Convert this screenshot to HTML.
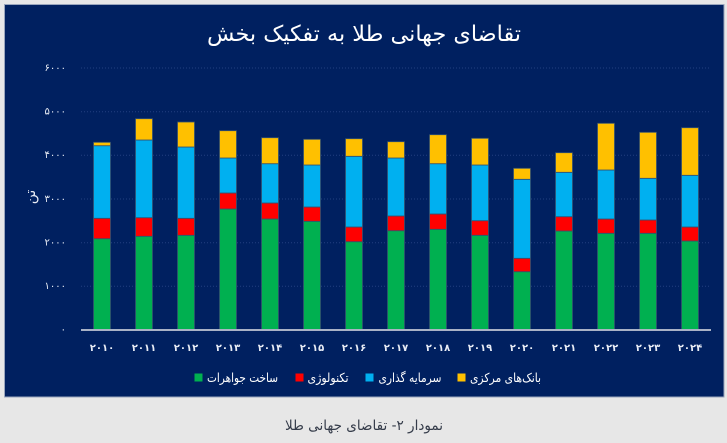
<!DOCTYPE html>
<html>
<head>
<meta charset="utf-8">
<style>
html,body{margin:0;padding:0;background:#e7e7e7;}
body{width:727px;height:443px;overflow:hidden;}
svg{display:block;}
text{font-family:"DejaVu Sans","Liberation Sans",sans-serif;}
</style>
</head>
<body>
<svg width="727" height="443" viewBox="0 0 727 443" xmlns="http://www.w3.org/2000/svg">
<rect x="0" y="0" width="727" height="443" fill="#e7e7e7"/>
<rect x="4.5" y="4.5" width="719.5" height="392.5" fill="#002060" stroke="#9aa6bd" stroke-width="1"/>

<text x="364" y="41" fill="#ffffff" font-size="22" text-anchor="middle" direction="rtl" textLength="314" lengthAdjust="spacingAndGlyphs">تقاضای جهانی طلا به تفکیک بخش</text>

<g stroke="#223f80" stroke-width="1" stroke-dasharray="1,2">
<line x1="81" y1="68" x2="711" y2="68"/>
<line x1="81" y1="111.7" x2="711" y2="111.7"/>
<line x1="81" y1="155.3" x2="711" y2="155.3"/>
<line x1="81" y1="199" x2="711" y2="199"/>
<line x1="81" y1="242.7" x2="711" y2="242.7"/>
<line x1="81" y1="286.3" x2="711" y2="286.3"/>
</g>

<g fill="#e8ecf5" font-size="10" text-anchor="end">
<text x="66" y="71">۶۰۰۰</text>
<text x="66" y="114.5">۵۰۰۰</text>
<text x="66" y="158">۴۰۰۰</text>
<text x="66" y="202">۳۰۰۰</text>
<text x="66" y="245.5">۲۰۰۰</text>
<text x="66" y="289">۱۰۰۰</text>
<text x="66" y="332.5">۰</text>
</g>
<text transform="translate(35,197) rotate(-90)" fill="#e8ecf5" font-size="14" text-anchor="middle">تن</text>

<!-- bars -->
<g stroke="#34506e" stroke-width="0.8">
<rect x="93.5" y="238.7" width="17" height="90.8" fill="#00b050"/><rect x="93.5" y="218.3" width="17" height="20.4" fill="#ff0000"/><rect x="93.5" y="145.7" width="17" height="72.6" fill="#00b0f0"/><rect x="93.5" y="142.3" width="17" height="3.4" fill="#ffc000"/>
<rect x="135.5" y="236.3" width="17" height="93.2" fill="#00b050"/><rect x="135.5" y="217.7" width="17" height="18.6" fill="#ff0000"/><rect x="135.5" y="140" width="17" height="77.7" fill="#00b0f0"/><rect x="135.5" y="118.7" width="17" height="21.3" fill="#ffc000"/>
<rect x="177.5" y="235.3" width="17" height="94.2" fill="#00b050"/><rect x="177.5" y="218.3" width="17" height="17" fill="#ff0000"/><rect x="177.5" y="147" width="17" height="71.3" fill="#00b0f0"/><rect x="177.5" y="122" width="17" height="25" fill="#ffc000"/>
<rect x="219.5" y="209" width="17" height="120.5" fill="#00b050"/><rect x="219.5" y="193" width="17" height="16" fill="#ff0000"/><rect x="219.5" y="158" width="17" height="35" fill="#00b0f0"/><rect x="219.5" y="130.7" width="17" height="27.3" fill="#ffc000"/>
<rect x="261.5" y="219" width="17" height="110.5" fill="#00b050"/><rect x="261.5" y="203" width="17" height="16" fill="#ff0000"/><rect x="261.5" y="163.7" width="17" height="39.3" fill="#00b0f0"/><rect x="261.5" y="137.7" width="17" height="26" fill="#ffc000"/>
<rect x="303.5" y="221.3" width="17" height="108.2" fill="#00b050"/><rect x="303.5" y="207" width="17" height="14.3" fill="#ff0000"/><rect x="303.5" y="165" width="17" height="42" fill="#00b0f0"/><rect x="303.5" y="139.3" width="17" height="25.7" fill="#ffc000"/>
<rect x="345.5" y="241.7" width="17" height="87.8" fill="#00b050"/><rect x="345.5" y="227" width="17" height="14.7" fill="#ff0000"/><rect x="345.5" y="156.3" width="17" height="70.7" fill="#00b0f0"/><rect x="345.5" y="138.7" width="17" height="17.6" fill="#ffc000"/>
<rect x="387.5" y="230.7" width="17" height="98.8" fill="#00b050"/><rect x="387.5" y="216" width="17" height="14.7" fill="#ff0000"/><rect x="387.5" y="158" width="17" height="58" fill="#00b0f0"/><rect x="387.5" y="141.7" width="17" height="16.3" fill="#ffc000"/>
<rect x="429.5" y="229.3" width="17" height="100.2" fill="#00b050"/><rect x="429.5" y="214" width="17" height="15.3" fill="#ff0000"/><rect x="429.5" y="163.7" width="17" height="50.3" fill="#00b0f0"/><rect x="429.5" y="134.7" width="17" height="29" fill="#ffc000"/>
<rect x="471.5" y="235.3" width="17" height="94.2" fill="#00b050"/><rect x="471.5" y="220.7" width="17" height="14.6" fill="#ff0000"/><rect x="471.5" y="165" width="17" height="55.7" fill="#00b0f0"/><rect x="471.5" y="138.3" width="17" height="26.7" fill="#ffc000"/>
<rect x="513.5" y="271.7" width="17" height="57.8" fill="#00b050"/><rect x="513.5" y="258.3" width="17" height="13.4" fill="#ff0000"/><rect x="513.5" y="179.3" width="17" height="79" fill="#00b0f0"/><rect x="513.5" y="168.3" width="17" height="11" fill="#ffc000"/>
<rect x="555.5" y="231" width="17" height="98.5" fill="#00b050"/><rect x="555.5" y="216.7" width="17" height="14.3" fill="#ff0000"/><rect x="555.5" y="172.3" width="17" height="44.4" fill="#00b0f0"/><rect x="555.5" y="152.7" width="17" height="19.6" fill="#ffc000"/>
<rect x="597.5" y="233.3" width="17" height="96.2" fill="#00b050"/><rect x="597.5" y="219" width="17" height="14.3" fill="#ff0000"/><rect x="597.5" y="170" width="17" height="49" fill="#00b0f0"/><rect x="597.5" y="123.3" width="17" height="46.7" fill="#ffc000"/>
<rect x="639.5" y="233.3" width="17" height="96.2" fill="#00b050"/><rect x="639.5" y="220" width="17" height="13.3" fill="#ff0000"/><rect x="639.5" y="178.3" width="17" height="41.7" fill="#00b0f0"/><rect x="639.5" y="132.3" width="17" height="46" fill="#ffc000"/>
<rect x="681.5" y="241" width="17" height="88.5" fill="#00b050"/><rect x="681.5" y="227" width="17" height="14" fill="#ff0000"/><rect x="681.5" y="175.3" width="17" height="51.7" fill="#00b0f0"/><rect x="681.5" y="127.7" width="17" height="47.6" fill="#ffc000"/>
</g>
<line x1="81" y1="330" x2="711" y2="330" stroke="#a9b2c6" stroke-width="2"/>

<g fill="#e8ecf5" font-size="10" font-weight="bold" text-anchor="middle">
<text x="102" y="351">۲۰۱۰</text>
<text x="144" y="351">۲۰۱۱</text>
<text x="186" y="351">۲۰۱۲</text>
<text x="228" y="351">۲۰۱۳</text>
<text x="270" y="351">۲۰۱۴</text>
<text x="312" y="351">۲۰۱۵</text>
<text x="354" y="351">۲۰۱۶</text>
<text x="396" y="351">۲۰۱۷</text>
<text x="438" y="351">۲۰۱۸</text>
<text x="480" y="351">۲۰۱۹</text>
<text x="522" y="351">۲۰۲۰</text>
<text x="564" y="351">۲۰۲۱</text>
<text x="606" y="351">۲۰۲۲</text>
<text x="648" y="351">۲۰۲۳</text>
<text x="690" y="351">۲۰۲۴</text>
</g>

<rect x="194.5" y="373.5" width="8" height="8" fill="#00b050"/>
<text x="242.5" y="382" fill="#ffffff" font-size="12.5" text-anchor="middle" direction="rtl" textLength="71" lengthAdjust="spacingAndGlyphs">ساخت جواهرات</text>
<rect x="295.5" y="373.5" width="8" height="8" fill="#ff0000"/>
<text x="328" y="382" fill="#ffffff" font-size="12.5" text-anchor="middle" direction="rtl" textLength="41" lengthAdjust="spacingAndGlyphs">تکنولوژی</text>
<rect x="365.5" y="373.5" width="8" height="8" fill="#00b0f0"/>
<text x="410" y="382" fill="#ffffff" font-size="12.5" text-anchor="middle" direction="rtl" textLength="63" lengthAdjust="spacingAndGlyphs">سرمایه گذاری</text>
<rect x="457.5" y="373.5" width="8" height="8" fill="#ffc000"/>
<text x="505.5" y="382" fill="#ffffff" font-size="12.5" text-anchor="middle" direction="rtl" textLength="71" lengthAdjust="spacingAndGlyphs">بانک‌های مرکزی</text>

<text x="364" y="430" fill="#353c4a" font-size="14" text-anchor="middle" direction="rtl" textLength="158" lengthAdjust="spacingAndGlyphs">نمودار ۲- تقاضای جهانی طلا</text>
</svg>
</body>
</html>
